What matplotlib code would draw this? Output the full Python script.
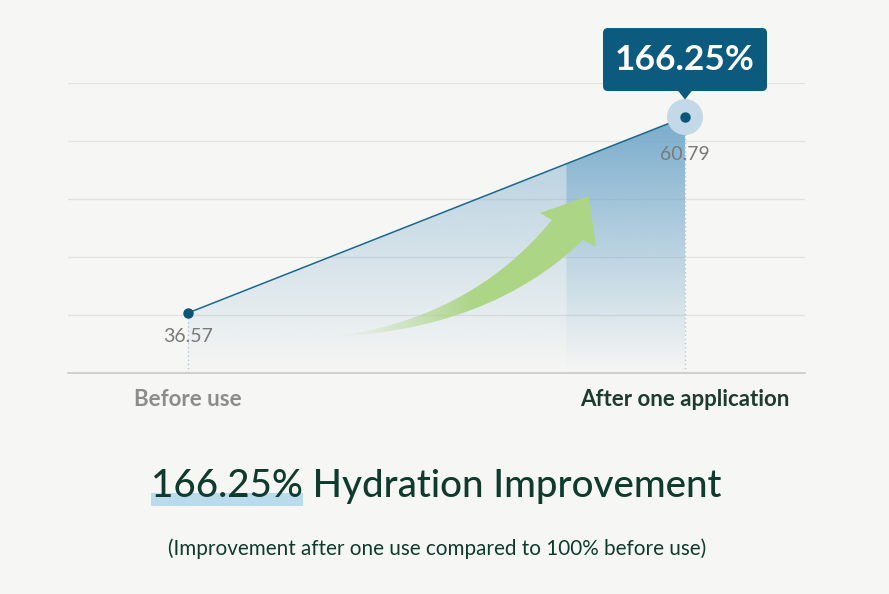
import numpy as np
import matplotlib
matplotlib.use('Agg')
import matplotlib.pyplot as plt
from matplotlib.patches import Polygon, PathPatch, FancyBboxPatch, Circle, Rectangle
from matplotlib.path import Path
from matplotlib.transforms import ScaledTranslation

# Chart data
categories = ['Before use', 'After one application']
values = [36.57, 60.79]
improvement = '166.25%'
title_rest = ' Hydration Improvement'
subtitle = '(Improvement after one use compared to 100% before use)'

# Axis range (value scale of the reference)
y_min, y_max = 29.15, 65.0

bg = '#f6f6f4'
dark_blue = '#0d5a7f'
dark_green = '#0f3b2f'
plt.rcParams['font.family'] = ['Lato', 'DejaVu Sans']

fig = plt.figure(figsize=(8.89, 5.94), dpi=100, facecolor=bg)
ax = fig.add_axes([0.0765, 0.3721, 0.8290, 0.4882])
ax.set_facecolor(bg)

x = np.arange(len(values))

# gradient fill under the line, with a darker band near the last point
band_start = 0.76
nx, ny = 600, 300
gx = np.linspace(0, 1, nx)
gy = np.linspace(0, 1, ny)[:, None]
amax = np.where(gx >= band_start, 0.93, 0.53)[None, :]
img = np.zeros((ny, nx, 4))
img[..., 0], img[..., 1], img[..., 2] = 111 / 255, 166 / 255, 201 / 255
img[..., 3] = gy * amax
area = Polygon([(x[0], y_min), (x[0], values[0]), (x[1], values[1]), (x[1], y_min)],
               closed=True, facecolor='none', edgecolor='none')
ax.add_patch(area)
im = ax.imshow(img, extent=(x[0], x[1], y_min, values[1]), origin='lower',
               aspect='auto', interpolation='bilinear', zorder=1)
im.set_clip_path(area)

# green curved arrow (axes fraction coordinates), fading towards its tail
verts = [(0.3555, 0.1241), (0.5455, 0.1828), (0.6567, 0.5276),
         (0.6404, 0.5517), (0.7069, 0.6103), (0.7164, 0.4345),
         (0.6988, 0.4586), (0.5726, 0.1483), (0.3555, 0.1241), (0.3555, 0.1241)]
codes = [Path.MOVETO, Path.CURVE3, Path.CURVE3, Path.LINETO, Path.LINETO,
         Path.LINETO, Path.LINETO, Path.CURVE3, Path.CURVE3, Path.CLOSEPOLY]
arrow = PathPatch(Path(verts, codes), transform=ax.transAxes,
                  facecolor='none', edgecolor='none')
ax.add_patch(arrow)
ax_ext = (0.34, 0.73, 0.10, 0.63)
ar = np.zeros((10, 400, 4))
ar[..., 0], ar[..., 1], ar[..., 2] = 172 / 255, 213 / 255, 133 / 255
ax_x = np.linspace(ax_ext[0], ax_ext[1], 400)
ar[..., 3] = np.clip((ax_x - 0.36) / 0.19, 0, 1)[None, :] ** 1.3
aim = ax.imshow(ar, extent=ax_ext, transform=ax.transAxes, origin='lower',
                aspect='auto', interpolation='bilinear', zorder=2)
aim.set_clip_path(arrow)

# dotted drop lines
for xi, v in zip(x, values):
    ax.plot([xi, xi], [y_min, v], color='#b3c9da', lw=1, ls=(0, (1, 2)), zorder=2)

# line + markers
ax.plot(x, values, color='#1a6890', lw=1.1, zorder=3)

# halo on the last point and tooltip box
tr = fig.dpi_scale_trans + ScaledTranslation(x[1], values[1], ax.transData)
ax.add_patch(Circle((0, 0), 0.18, transform=tr, facecolor='#c3d9e8',
                    edgecolor='none', zorder=3, clip_on=False))
ax.plot(x, values, 'o', color='#0b5579', ms=6.5, zorder=4, clip_on=False)

ax.add_patch(FancyBboxPatch((-0.80, 0.28), 1.60, 0.59,
                            boxstyle='round,pad=0.02,rounding_size=0.05',
                            transform=tr, facecolor=dark_blue, edgecolor='none',
                            zorder=5, clip_on=False))
ax.add_patch(Polygon([(-0.075, 0.27), (0.075, 0.27), (0, 0.175)], closed=True,
                     transform=tr, facecolor=dark_blue, edgecolor='none',
                     zorder=5, clip_on=False))
ax.text(0, 0.575, improvement, transform=tr, ha='center', va='center',
        color='white', fontsize=25.5, fontweight='bold', zorder=6)

# value labels (the last one sits below the halo)
for xi, v, off in zip(x, values, [-17, -27]):
    ax.annotate(f'{v:.2f}', (xi, v), xytext=(0, off), textcoords='offset points',
                ha='center', va='center', fontsize=14, color='#7a7a7a', zorder=6)

# axes styling
ax.set_xlim(-0.2414, 1.2414)
ax.set_ylim(y_min, y_max)
ax.set_yticks(np.linspace(y_min, y_max, 6))
ax.yaxis.grid(True, color='#e2e2e0', lw=1)
ax.set_axisbelow(True)
ax.tick_params(left=False, bottom=False, labelleft=False, labelbottom=False)
for s in ['top', 'left', 'right']:
    ax.spines[s].set_visible(False)
ax.spines['bottom'].set_color('#c9c9c7')
ax.spines['bottom'].set_linewidth(1.2)

# category labels
cat_colors = ['#8c8c8c', '#1d3b30']
for xi, lab, c in zip(x, categories, cat_colors):
    ax.annotate(lab, (xi, y_min), xytext=(0, -19), textcoords='offset points',
                ha='center', va='center', fontsize=16, fontweight='bold', color=c)

# bottom title with highlight under the number
title = fig.text(0.491, 0.164, improvement + title_rest, ha='center', va='baseline',
                 fontsize=27.7, fontweight=500, color=dark_green, zorder=3)
fig.canvas.draw()
r = fig.canvas.get_renderer()
bb = title.get_window_extent(r)
tmp = fig.text(0, 0, improvement, fontsize=27.7, fontweight=500)
nb = tmp.get_window_extent(r)
tmp.remove()
W, H = fig.bbox.width, fig.bbox.height
fig.add_artist(Rectangle((bb.x0 / W, 0.148), nb.width / W, 0.022,
                         transform=fig.transFigure, facecolor='#b9dbeb',
                         edgecolor='none', zorder=2))

fig.text(0.4915, 0.077, subtitle, ha='center', va='center', fontsize=14.9,
         color=dark_green)

fig.savefig('out.png', dpi=100, facecolor=bg)
